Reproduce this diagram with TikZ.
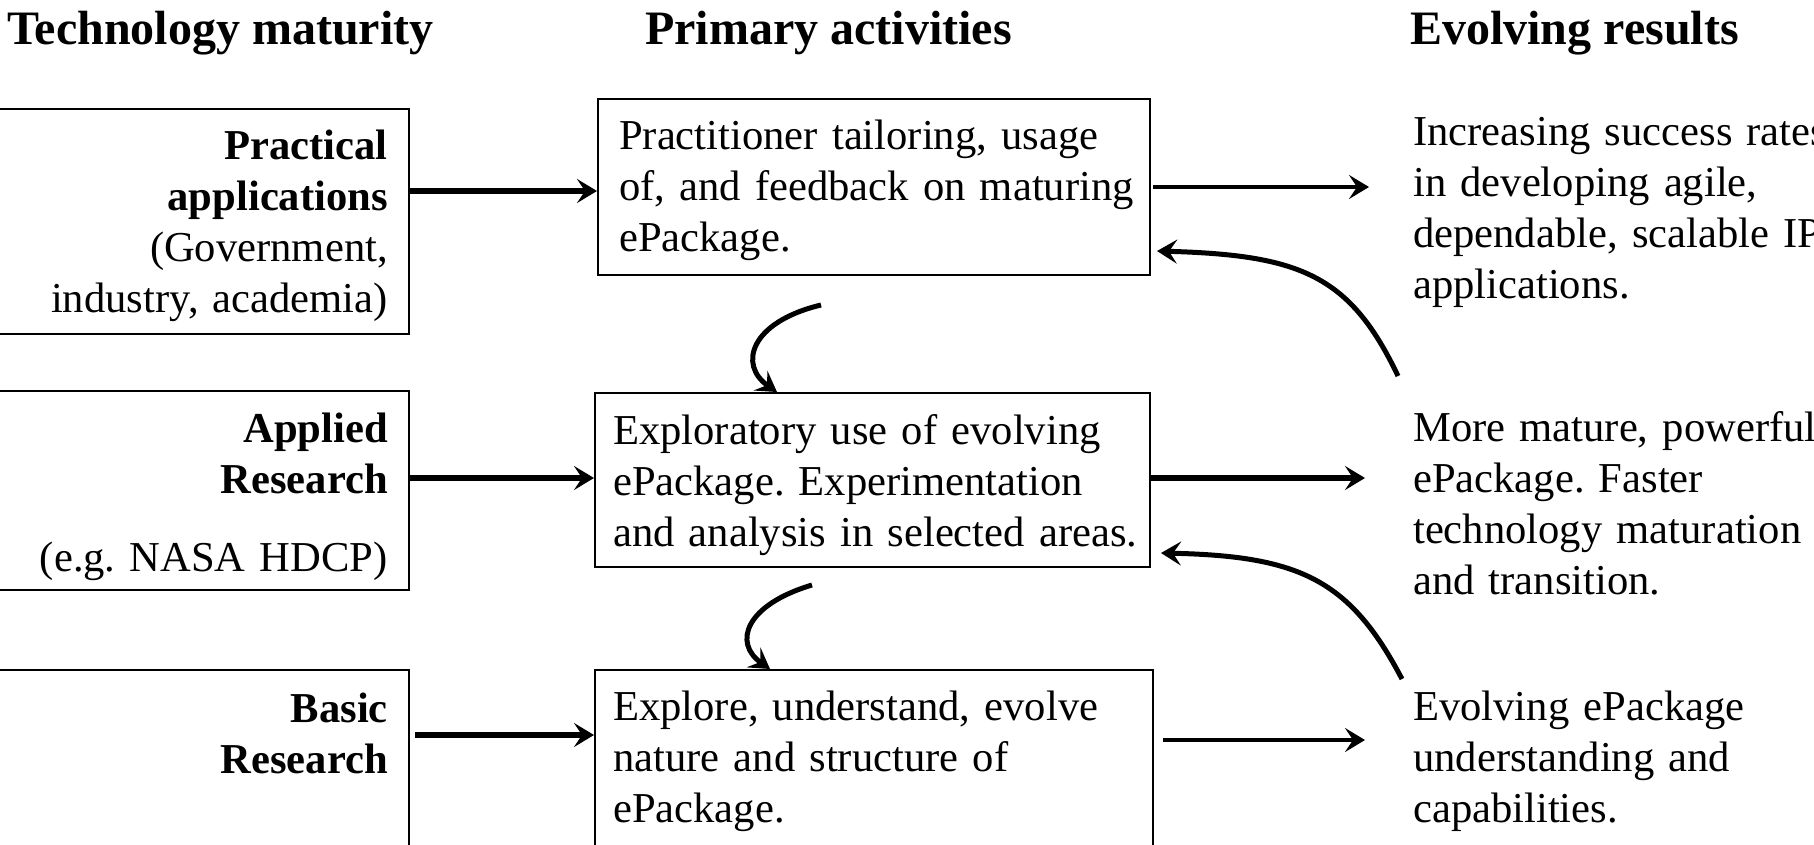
\documentclass[tikz,border=0pt]{standalone}
\usepackage{fontspec}
\setmainfont{Liberation Serif}
\usetikzlibrary{arrows.meta}
\frenchspacing
\begin{document}
\begin{tikzpicture}[x=1pt,y=-1pt,
  box/.style={draw,line width=2pt,inner sep=0pt,anchor=north west},
  body/.style={inner sep=0pt,font=\fontsize{42.6}{51}\selectfont,text width=#1},
  head/.style={inner sep=0pt,anchor=base west,font=\fontsize{48}{56}\selectfont\bfseries},
  tip/.style={-{Stealth[length=20pt,width=24pt,inset=8pt]}},
  flow/.style={tip,line width=5.5pt},
  thinflow/.style={tip,line width=4pt},
  loop/.style={tip,line width=5pt}
]
\useasboundingbox (0,0) rectangle (1814,844);

% headings
\node[head] (h1) at (7,44) {Technology maturity};
\node[head] (h2) at (645,44) {Primary activities};
\node[head] (h3) at (1410,44) {Evolving results};

% left boxes
\node[box,minimum width=413,minimum height=225] (L1) at (-5,108) {};
\node[body=373,align=right,anchor=base east] (L1t) at (388,159)
  {\textbf{Practical}\\ \textbf{applications}\\ (Government,\\ industry, academia)};
\node[box,minimum width=413,minimum height=199] (L2) at (-5,390) {};
\node[body=373,align=right,anchor=base east] (L2t) at (388,442)
  {\textbf{Applied}\\ \textbf{Research}\\[27pt] (e.g. NASA HDCP)};
\node[box,minimum width=413,minimum height=200] (L3) at (-5,669) {};
\node[body=373,align=right,anchor=base east] (L3t) at (388,722)
  {\textbf{Basic}\\ \textbf{Research}};

% middle boxes
\node[box,minimum width=552,minimum height=176] (M1) at (597,98) {};
\node[body=530,align=left,anchor=base west] (M1t) at (619,149)
  {Practitioner tailoring, usage\\ of, and feedback on maturing\\ ePackage.};
\node[box,minimum width=555,minimum height=174] (M2) at (594,392) {};
\node[body=530,align=left,anchor=base west] (M2t) at (613,444)
  {Exploratory use of evolving\\ ePackage. Experimentation\\ and analysis in selected areas.};
\node[box,minimum width=558,minimum height=190] (M3) at (594,669) {};
\node[body=530,align=left,anchor=base west] (M3t) at (613,720)
  {Explore, understand, evolve\\ nature and structure of\\ ePackage.};

% right texts
\node[body=520,align=left,anchor=base west] (R1) at (1413,145)
  {Increasing success rates\\ in developing agile,\\ dependable, scalable IP\\ applications.};
\node[body=520,align=left,anchor=base west] (R2) at (1413,441)
  {More mature, powerful\\ ePackage. Faster\\ technology maturation\\ and transition.};
\node[body=520,align=left,anchor=base west] (R3) at (1413,720)
  {Evolving ePackage\\ understanding and\\ capabilities.};

% free ends
\coordinate (r1in) at (1369,187);
\coordinate (r2in) at (1365,478);
\coordinate (r3in) at (1365,740);
\coordinate (c1s) at (1398,376);
\coordinate (c2s) at (1402,679);
\coordinate (d1s) at (821,305);
\coordinate (d2s) at (812,585);

% left -> middle
\draw[flow] (L1.east |- 0,191) -- (M1.west |- 0,191);
\draw[flow] (L2.east |- 0,478) -- (M2.west |- 0,478);
\draw[flow] ([xshift=5pt]L3.east |- 0,735) -- (M3.west |- 0,735);

% middle -> right
\draw[thinflow] ([xshift=2pt]M1.east |- 0,187) -- (r1in);
\draw[flow] (M2.east |- 0,478) -- (r2in);
\draw[tip,line width=4.5pt] ([xshift=9pt]M3.east |- 0,740) -- (r3in);

% feedback curves
\draw[loop] (c1s) .. controls (1350,275) and (1300,255) .. ([xshift=6pt]M1.east |- 0,251);
\draw[loop] (c2s) .. controls (1350,580) and (1300,556) .. ([xshift=10pt]M2.east |- 0,553);
\draw[loop] (d1s) .. controls (750,322) and (738,365) .. (M2.north -| 777,0);
\draw[loop] (d2s) .. controls (745,605) and (733,643) .. (M3.north -| 770,0);
\end{tikzpicture}
\end{document}
